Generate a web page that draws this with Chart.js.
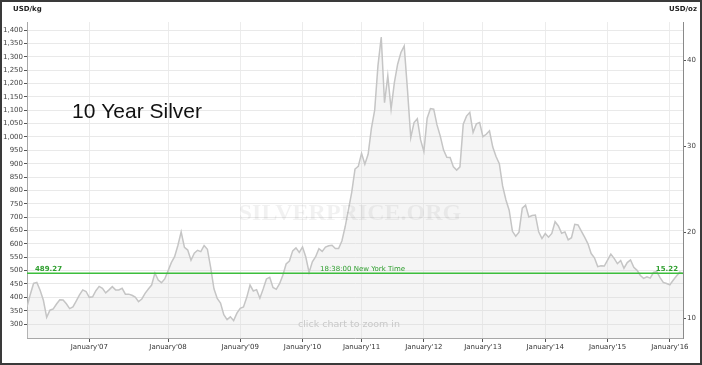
<!DOCTYPE html>
<html lang="en">
<head>
  <meta charset="UTF-8">
  <title>10 Year Silver</title>
  <script src="https://cdn.jsdelivr.net/npm/chart.js"></script>
  <style>
    body { margin: 0; background: #fff; }
    #wrap { position: relative; width: 702px; height: 365px; }
    #frame { position: absolute; left: 0; top: 0; width: 702px; height: 365px; box-sizing: border-box; border: 2px solid #3a3a3a; pointer-events: none; }
  </style>
</head>
<body>
  <div id="wrap">
    <canvas id="silverChart" width="702" height="365"></canvas>
    <div id="frame"></div>
  </div>

  <script>
    // silver price, USD/kg, sampled left to right across the chart
    const silverPrices = [
      365, 411, 452, 456, 427, 389, 325, 352, 357, 375,
      391, 390, 376, 358, 364, 386, 409, 428, 422, 400,
      402, 425, 441, 434, 417, 428, 440, 428, 428, 434,
      412, 412, 408, 401, 384, 394, 415, 431, 446, 491,
      465, 455, 469, 499, 530, 552, 594, 645, 587, 577,
      539, 565, 576, 571, 594, 580, 511, 432, 396, 379,
      335, 317, 327, 313, 341, 359, 364, 400, 446, 424,
      429, 397, 431, 469, 475, 437, 430, 451, 483, 525,
      536, 574, 585, 568, 588, 551, 493, 533, 552, 582,
      572, 588, 593, 595, 583, 583, 611, 664, 728, 793,
      880, 890, 939, 898, 935, 1032, 1100, 1267, 1374, 1128,
      1229, 1104, 1203, 1272, 1316, 1340, 1176, 997, 1054, 1068,
      989, 946, 1070, 1106, 1104, 1045, 1003, 951, 924, 923,
      888, 876, 888, 1048, 1078, 1092, 1017, 1049, 1054, 1001,
      1010, 1023, 962, 927, 900, 817, 765, 726, 647, 629,
      644, 734, 745, 701, 706, 708, 645, 620, 639, 625,
      639, 683, 667, 640, 645, 615, 623, 673, 671, 648,
      625, 601, 564, 548, 515, 518, 517, 539, 562, 546,
      526, 538, 509, 530, 540, 512, 501, 482, 471, 477,
      472, 493, 496, 474, 456, 452, 447, 464, 480, 494,
      489.27
    ];
    const yearLabels = ["January'07", "January'08", "January'09", "January'10", "January'11",
                        "January'12", "January'13", "January'14", "January'15", "January'16"];
    const yearIndex = [19, 43, 65, 84, 102, 121, 139, 158, 177, 196];
    const kgTicks = [300, 350, 400, 450, 500, 550, 600, 650, 700, 750, 800, 850, 900, 950, 1000,
                     1050, 1100, 1150, 1200, 1250, 1300, 1350, 1400];
    const ozTicks = [10, 20, 30, 40];
    const currentPrice = 489.27;
    const currentPriceOz = '15.22';
    const timeLabel = '18:38:00 New York Time';

    const OZ_PER_KG = 32.1507;
    const yMin = 248, yMax = 1430;
    const axisFont = { family: 'DejaVu Sans', size: 7 };

    const overlay = {
      id: 'overlay',
      afterDatasetsDraw(chart) {
        const { ctx, chartArea: a, scales } = chart;
        ctx.save();
        // watermark
        ctx.font = 'bold 24px "Liberation Serif"';
        ctx.fillStyle = 'rgba(0,0,0,0.055)';
        ctx.textAlign = 'center';
        ctx.textBaseline = 'middle';
        ctx.fillText('SILVERPRICE.ORG', 350, 214);

        // current price line
        const py = Math.round(scales.y.getPixelForValue(currentPrice));
        ctx.fillStyle = 'rgba(60,190,60,0.5)';
        ctx.fillRect(a.left, py - 1, a.right - a.left, 1);
        ctx.fillStyle = '#3cbe3c';
        ctx.fillRect(a.left, py, a.right - a.left, 1);
        ctx.fillStyle = '#2f9f2f';
        ctx.font = 'bold 7px "DejaVu Sans"';
        ctx.textBaseline = 'alphabetic';
        ctx.textAlign = 'left';
        ctx.fillText(currentPrice.toFixed(2), a.left + 8, py - 2);
        ctx.textAlign = 'right';
        ctx.fillText(currentPriceOz, a.right - 5, py - 2);
        ctx.font = '7px "DejaVu Sans"';
        ctx.textAlign = 'left';
        ctx.fillText(timeLabel, 320, py - 2);

        // hint
        ctx.font = '9.5px "DejaVu Sans"';
        ctx.fillStyle = '#c9c9c9';
        ctx.textAlign = 'center';
        ctx.textBaseline = 'middle';
        ctx.fillText('click chart to zoom in', 349, 325);
        ctx.restore();
      },
      afterDraw(chart) {
        const { ctx } = chart;
        ctx.save();
        ctx.fillStyle = '#111';
        ctx.font = '21px "Liberation Sans"';
        ctx.textAlign = 'left';
        ctx.textBaseline = 'alphabetic';
        ctx.fillText('10 Year Silver', 72, 118);

        ctx.font = 'bold 7px "DejaVu Sans"';
        ctx.fillStyle = '#222';
        ctx.textBaseline = 'middle';
        ctx.fillText('USD/kg', 13, 9);
        ctx.textAlign = 'right';
        ctx.fillText('USD/oz', 697, 9);
        ctx.restore();
      }
    };

    new Chart(document.getElementById('silverChart'), {
      type: 'line',
      data: {
        datasets: [{
          data: silverPrices.map((v, i) => ({ x: i, y: v })),
          borderColor: '#c5c5c5',
          borderWidth: 1.5,
          backgroundColor: 'rgba(215,215,215,0.25)',
          fill: 'start',
          pointRadius: 0,
          tension: 0
        }]
      },
      options: {
        responsive: false,
        animation: false,
        events: [],
        layout: { padding: { top: 22, left: 0, right: 0, bottom: 0 } },
        plugins: { legend: { display: false }, tooltip: { enabled: false } },
        scales: {
          x: {
            type: 'linear',
            min: 0,
            max: silverPrices.length - 1,
            afterBuildTicks: s => { s.ticks = yearIndex.map(v => ({ value: v })); },
            afterFit: s => { s.height = 27; },
            ticks: {
              callback: v => yearLabels[yearIndex.indexOf(v)],
              font: axisFont, color: '#333', padding: 1, maxRotation: 0, autoSkip: false
            },
            grid: { color: '#ececec', tickColor: '#555', tickLength: 4 },
            border: { color: '#a8a8a8' }
          },
          y: {
            position: 'left',
            min: yMin,
            max: yMax,
            afterBuildTicks: s => { s.ticks = kgTicks.map(v => ({ value: v })); },
            afterFit: s => { s.width = 27; },
            ticks: {
              callback: v => v.toLocaleString('en-US'),
              font: axisFont, color: '#444', padding: 1
            },
            grid: { color: '#e9e9e9', tickColor: '#555', tickLength: 3 },
            border: { color: '#a8a8a8' }
          },
          y2: {
            position: 'right',
            min: yMin / OZ_PER_KG,
            max: yMax / OZ_PER_KG,
            afterBuildTicks: s => { s.ticks = ozTicks.map(v => ({ value: v })); },
            afterFit: s => { s.width = 19; },
            ticks: { font: axisFont, color: '#444', padding: 1 },
            grid: { drawOnChartArea: false, tickColor: '#555', tickLength: 3 },
            border: { color: '#8a8a8a' }
          }
        }
      },
      plugins: [overlay]
    });
  </script>
</body>
</html>
